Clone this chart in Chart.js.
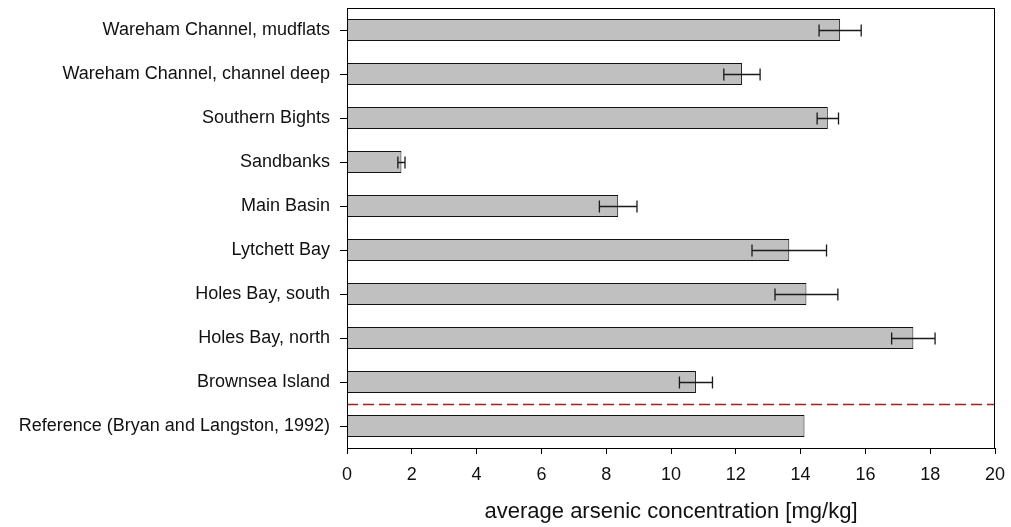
<!DOCTYPE html>
<html>
<head>
<meta charset="utf-8">
<script src="https://cdn.jsdelivr.net/npm/chart.js@4"></script>
<style>
  html, body { margin: 0; padding: 0; background: #fff; }
  #wrap { width: 1011px; height: 527px; }
</style>
</head>
<body>
<div id="wrap"><canvas id="c" width="1011" height="527"></canvas></div>
<script>
// ---- data ----
const categories = [
  'Wareham Channel, mudflats',
  'Wareham Channel, channel deep',
  'Southern Bights',
  'Sandbanks',
  'Main Basin',
  'Lytchett Bay',
  'Holes Bay, south',
  'Holes Bay, north',
  'Brownsea Island',
  'Reference (Bryan and Langston, 1992)'
];
const arsenicMean = [15.22, 12.19, 14.84, 1.68, 8.37, 13.65, 14.18, 17.48, 10.77, 14.12];
const arsenicError = [0.65, 0.56, 0.33, 0.11, 0.58, 1.15, 0.97, 0.67, 0.51, null];
const separatorAfter = 'Brownsea Island';
const xTickMin = 0, xTickMax = 20, xTickStep = 2;
const xTitle = 'average arsenic concentration [mg/kg]';

const FONT = "'Liberation Sans', Arial, Helvetica, sans-serif";

const errorBarPlugin = {
  id: 'errorBars',
  afterDatasetsDraw(chart) {
    const meta = chart.getDatasetMeta(0);
    const xs = chart.scales.x;
    const ctx = chart.ctx;
    ctx.save();
    ctx.strokeStyle = '#1a1a1a';
    ctx.lineWidth = 1.3;
    meta.data.forEach((bar, i) => {
      const e = arsenicError[i];
      if (e == null) return;
      const v = arsenicMean[i];
      const x1 = xs.getPixelForValue(v - e);
      const x2 = xs.getPixelForValue(v + e);
      const y = Math.round(bar.y) + 0.5;
      const cap = 6;
      ctx.beginPath();
      ctx.moveTo(x1, y); ctx.lineTo(x2, y);
      ctx.moveTo(x1, y - cap); ctx.lineTo(x1, y + cap);
      ctx.moveTo(x2, y - cap); ctx.lineTo(x2, y + cap);
      ctx.stroke();
    });
    ctx.restore();
  }
};

const frameAndSeparatorPlugin = {
  id: 'frameSep',
  afterDatasetsDraw(chart) {
    const ys = chart.scales.y;
    const a = chart.chartArea;
    const ctx = chart.ctx;
    const idx = categories.indexOf(separatorAfter);
    const yPix = Math.round((ys.getPixelForValue(idx) + ys.getPixelForValue(idx + 1)) / 2) + 0.5;
    ctx.save();
    ctx.strokeStyle = '#9a2222';
    ctx.lineWidth = 1.4;
    ctx.setLineDash([11, 5]);
    ctx.beginPath();
    ctx.moveTo(a.left, yPix);
    ctx.lineTo(a.right, yPix);
    ctx.stroke();
    ctx.setLineDash([]);
    ctx.strokeStyle = '#000';
    ctx.lineWidth = 1;
    ctx.strokeRect(Math.round(a.left) + 0.5, Math.round(a.top) + 0.5,
                   Math.round(a.right - a.left) - 1, Math.round(a.bottom - a.top));
    ctx.restore();
  }
};

new Chart(document.getElementById('c'), {
  type: 'bar',
  data: {
    labels: categories,
    datasets: [{
      data: arsenicMean,
      backgroundColor: '#c0c0c0',
      borderColor: '#111',
      borderWidth: 1,
      barPercentage: 0.5,
      categoryPercentage: 1.0
    }]
  },
  options: {
    indexAxis: 'y',
    responsive: false,
    animation: false,
    devicePixelRatio: 1,
    layout: { padding: { top: 8, right: 16, left: 0, bottom: 0 } },
    plugins: { legend: { display: false }, tooltip: { enabled: false } },
    scales: {
      x: {
        type: 'linear',
        min: xTickMin, max: xTickMax,
        ticks: { stepSize: xTickStep, color: '#111', font: { family: FONT, size: 18 }, padding: 10, maxRotation: 0 },
        grid: { drawOnChartArea: false, color: '#000', tickLength: 6, tickWidth: 1 },
        border: { color: '#000', width: 1 },
        title: { display: true, text: xTitle, color: '#111', font: { family: FONT, size: 22 }, padding: { top: 4, bottom: 2 } },
        afterFit(scale) { scale.height = 79; scale.paddingLeft = 0; scale.paddingRight = 0; }
      },
      y: {
        type: 'category',
        offset: true,
        ticks: { color: '#111', font: { family: FONT, size: 18 }, padding: 10, autoSkip: false },
        grid: { offset: false, drawOnChartArea: false, color: '#000', tickLength: 7, tickWidth: 1 },
        border: { color: '#000', width: 1 },
        afterFit(scale) { scale.width = 347; scale.paddingTop = 0; scale.paddingBottom = 0; }
      }
    }
  },
  plugins: [errorBarPlugin, frameAndSeparatorPlugin]
});
</script>
</body>
</html>
